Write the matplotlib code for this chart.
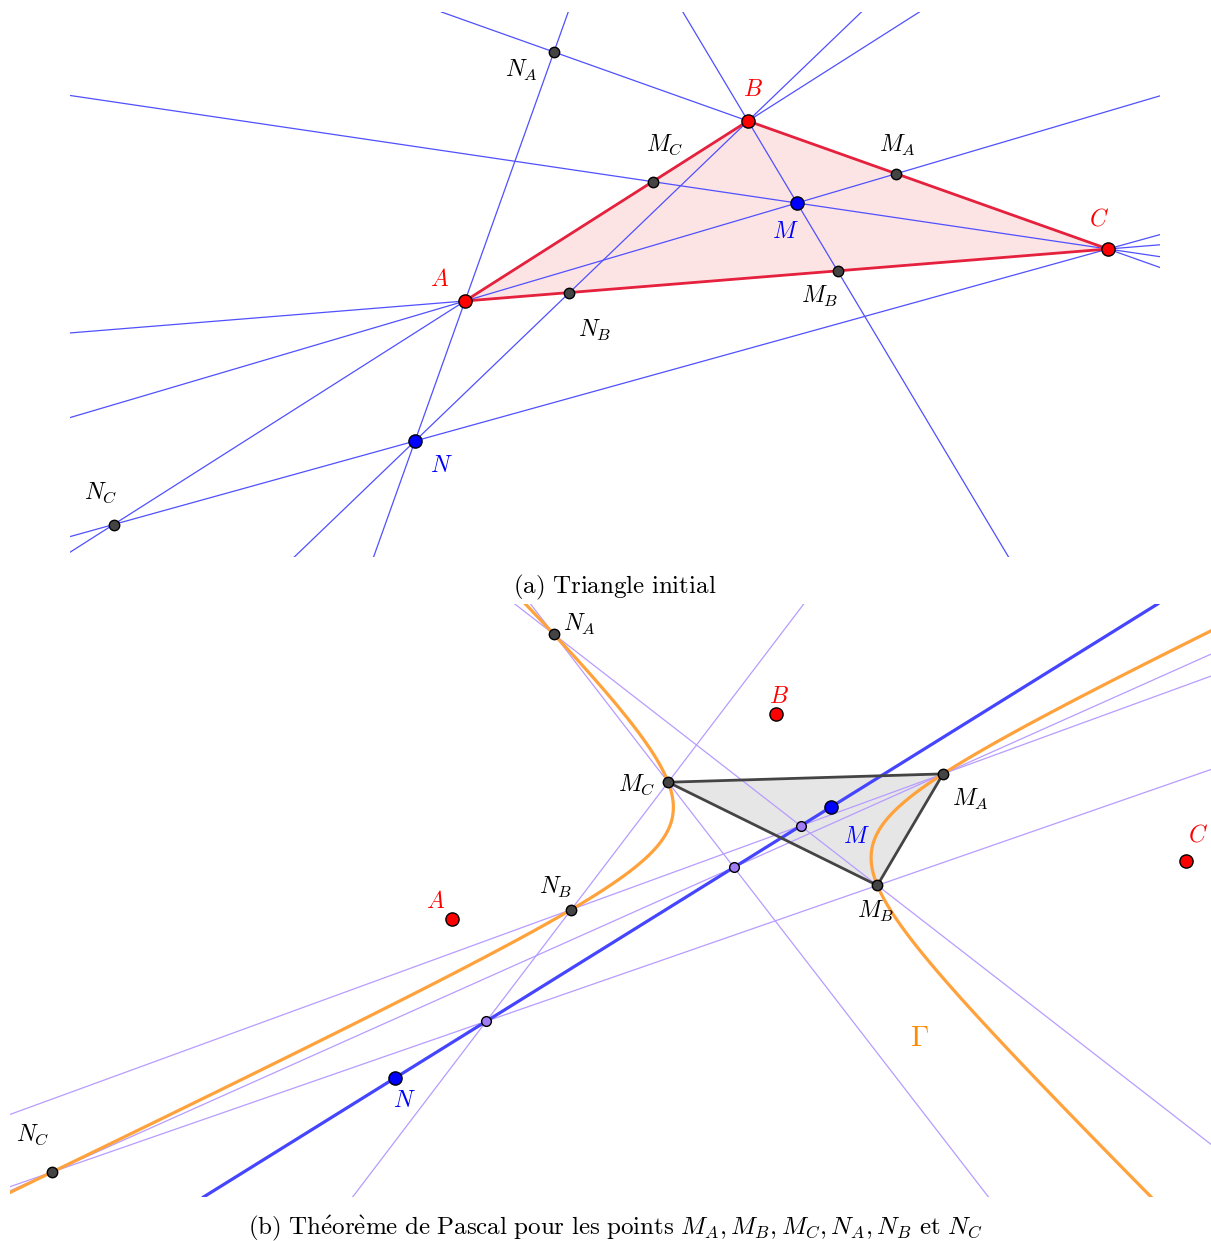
import numpy as np
import matplotlib
matplotlib.use("Agg")
from matplotlib import pyplot as plt

plt.rcParams["mathtext.fontset"] = "cm"

# Panel (a): triangle ABC and the two points M, N (picture coordinates, y down)
top_A = (465, 301)
top_B = (748, 121)
top_C = (1108, 249)
top_M = (797, 203)
top_N = (415, 441)

# Panel (b): same construction, other position
bot_A = (452, 919)
bot_B = (776, 714)
bot_C = (1186, 861)
bot_M = (831, 807)
bot_N = (395, 1078)

W, H = 1211, 1241

C_LINE = "#5050ff"
C_RED_EDGE = "#e5213d"
C_PINK = "#fde4e4"
C_GREY_PT = "#444444"
C_PURPLE = "#b79cff"
C_PURPLE_PT = "#a07cf5"
C_ORANGE = "#ffa23c"


def meet(p1, p2, p3, p4):
    # intersection of line p1p2 with line p3p4
    x1, y1 = p1
    x2, y2 = p2
    x3, y3 = p3
    x4, y4 = p4
    d = (x1 - x2) * (y3 - y4) - (y1 - y2) * (x3 - x4)
    a = x1 * y2 - y1 * x2
    b = x3 * y4 - y3 * x4
    return ((a * (x3 - x4) - (x1 - x2) * b) / d, (a * (y3 - y4) - (y1 - y2) * b) / d)


def feet(A, B, C, P):
    return meet(A, P, B, C), meet(B, P, A, C), meet(C, P, A, B)


def dot(ax, p, color, size=9.5, z=6):
    ax.plot(*p, "o", ms=size, mfc=color, mec="black", mew=1.0, zorder=z)


def label(ax, p, txt, color="black", size=17):
    ax.text(*p, txt, color=color, fontsize=size, ha="center", va="center", zorder=7)


def make_axes(fig, x0, y0, x1, y1):
    ax = fig.add_axes([x0 / W, 1 - y1 / H, (x1 - x0) / W, (y1 - y0) / H])
    ax.set_xlim(x0, x1)
    ax.set_ylim(y1, y0)
    ax.set_axis_off()
    return ax


fig = plt.figure(figsize=(W / 100, H / 100), dpi=100)

# ---------------- panel (a)
ax = make_axes(fig, 70, 12, 1160, 557)
A, B, C, M, N = top_A, top_B, top_C, top_M, top_N
MA, MB, MC = feet(A, B, C, M)
NA, NB, NC = feet(A, B, C, N)

ax.fill([A[0], B[0], C[0]], [A[1], B[1], C[1]], color=C_PINK, zorder=1)
for p, q in [(A, B), (B, C), (C, A), (A, M), (B, M), (C, M), (A, N), (B, N), (C, N)]:
    ax.axline(p, q, color=C_LINE, lw=0.9, zorder=2)
ax.plot([A[0], B[0], C[0], A[0]], [A[1], B[1], C[1], A[1]], color=C_RED_EDGE, lw=2.0, zorder=3)

for p in (MA, MB, MC, NA, NB, NC):
    dot(ax, p, C_GREY_PT, 7.5)
for p in (A, B, C):
    dot(ax, p, "#ff0000")
for p in (M, N):
    dot(ax, p, "#0000ff")

label(ax, (440, 279), "$A$", "#ff0000")
label(ax, (753, 89), "$B$", "#ff0000")
label(ax, (1099, 218), "$C$", "#ff0000")
label(ax, (785, 231), "$M$", "#0000ff")
label(ax, (441, 465), "$N$", "#0000ff")
label(ax, (897, 145), "$M_A$")
label(ax, (820, 296), "$M_B$")
label(ax, (665, 145), "$M_C$")
label(ax, (521, 70), "$N_A$")
label(ax, (595, 330), "$N_B$")
label(ax, (101, 493), "$N_C$")

fig.text(615 / W, 1 - 587 / H,
         r"$\mathrm{(a)\ Triangle\ initial}$", fontsize=18, ha="center", va="center")

# ---------------- panel (b)
ax = make_axes(fig, 10, 604, 1211, 1197)
A, B, C, M, N = bot_A, bot_B, bot_C, bot_M, bot_N
MA, MB, MC = feet(A, B, C, M)
NA, NB, NC = feet(A, B, C, N)

# conic through the six points (least squares on normalised coordinates)
six = np.array([MA, MB, MC, NA, NB, NC])
cx, cy, s = 600.0, 900.0, 400.0
u = (six[:, 0] - cx) / s
v = (six[:, 1] - cy) / s
rows = np.column_stack([u * u, u * v, v * v, u, v, np.ones_like(u)])
coef = np.linalg.svd(rows)[2][-1]
gx, gy = np.meshgrid(np.linspace(0, 1220, 1400), np.linspace(590, 1210, 800))
gu = (gx - cx) / s
gv = (gy - cy) / s
F = (coef[0] * gu * gu + coef[1] * gu * gv + coef[2] * gv * gv
     + coef[3] * gu + coef[4] * gv + coef[5])
ax.contour(gx, gy, F, levels=[0], colors=[C_ORANGE], linewidths=2.3, zorder=3)

ax.fill([MA[0], MB[0], MC[0]], [MA[1], MB[1], MC[1]], color="#e6e6e6", zorder=1)
hexagon = [NA, MB, NC, MA, NB, MC]
for i in range(6):
    ax.axline(hexagon[i], hexagon[(i + 1) % 6], color=C_PURPLE, lw=0.9, zorder=2)
ax.axline(M, N, color="#4545ff", lw=2.3, zorder=3)
ax.plot([MA[0], MB[0], MC[0], MA[0]], [MA[1], MB[1], MC[1], MA[1]],
        color="#444444", lw=2.0, zorder=4)

pascal_pts = [meet(hexagon[i], hexagon[i + 1], hexagon[i + 3], hexagon[(i + 4) % 6]) for i in range(3)]
for p in pascal_pts:
    dot(ax, p, C_PURPLE_PT, 7)
for p in (MA, MB, MC, NA, NB, NC):
    dot(ax, p, C_GREY_PT, 7.5)
for p in (A, B, C):
    dot(ax, p, "#ff0000")
for p in (M, N):
    dot(ax, p, "#0000ff")

label(ax, (436, 901), "$A$", "#ff0000")
label(ax, (779, 696), "$B$", "#ff0000")
label(ax, (1198, 835), "$C$", "#ff0000")
label(ax, (856, 836), "$M$", "#0000ff")
label(ax, (404, 1100), "$N$", "#0000ff")
label(ax, (970, 799), "$M_A$")
label(ax, (876, 911), "$M_B$")
label(ax, (637, 785), "$M_C$")
label(ax, (579, 624), "$N_A$")
label(ax, (556, 887), "$N_B$")
label(ax, (33, 1135), "$N_C$")
label(ax, (919, 1038), r"$\Gamma$", "#ff8c00", 21)

fig.text(615 / W, 1 - 1228 / H,
         r"$\mathrm{(b)\ Th\acute{e}or\grave{e}me\ de\ Pascal\ pour\ les\ points\ }"
         r"M_A, M_B, M_C, N_A, N_B\mathrm{\ et\ }N_C$",
         fontsize=18, ha="center", va="center")

fig.savefig("out.png", dpi=100)
